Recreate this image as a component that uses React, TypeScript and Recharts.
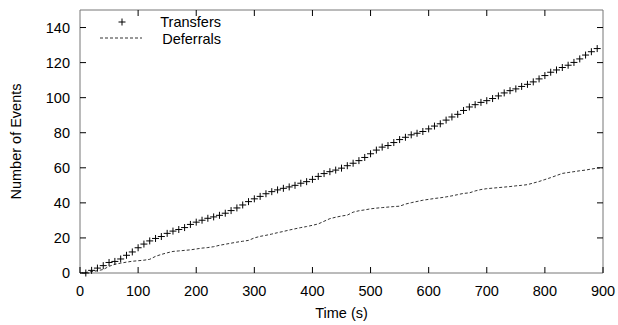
import React from 'react';
import {
  ComposedChart,
  Line,
  XAxis,
  YAxis,
  ReferenceArea,
} from 'recharts';

const times = [
  0, 10, 20, 30, 40, 50, 60, 70, 80, 90,
  100, 110, 120, 130, 140, 150, 160, 170, 180, 190,
  200, 210, 220, 230, 240, 250, 260, 270, 280, 290,
  300, 310, 320, 330, 340, 350, 360, 370, 380, 390,
  400, 410, 420, 430, 440, 450, 460, 470, 480, 490,
  500, 510, 520, 530, 540, 550, 560, 570, 580, 590,
  600, 610, 620, 630, 640, 650, 660, 670, 680, 690,
  700, 710, 720, 730, 740, 750, 760, 770, 780, 790,
  800, 810, 820, 830, 840, 850, 860, 870, 880, 890,
  900,
];

const transfers: (number | null)[] = [
  null,
  0, 1.5, 2.8, 4.2, 6, 6.6, 8, 10.1, 12, 14.4,
  16.5, 18.3, 19.7, 20.8, 22.6, 23.9, 24.8, 25.9, 27.7, 29,
  30.1, 31.2, 32, 32.9, 34.1, 35.6, 37.1, 38.8, 40.7, 42.3,
  43.7, 45.2, 46.4, 47.4, 48.3, 49.1, 50, 51.2, 52.1, 53.4,
  55.1, 56.7, 57.8, 58.7, 59.8, 61.2, 62.6, 64.1, 65.9, 68,
  70.1, 71.8, 72.7, 74.4, 76.1, 77.4, 78.8, 79.7, 80.7, 82.2,
  83.8, 85.1, 87.2, 89, 90.5, 92.7, 94.7, 96, 97.3, 98.3,
  99.5, 101, 102.7, 104, 105, 106.4, 107.6, 109, 110.7, 112.6,
  114.5, 115.8, 117.2, 118.5, 120.1, 122.1, 124.3, 126.2, 128,
  null,
];

const deferrals = [
  0, 0.3, 0.8, 1.3, 2, 3.8, 5, 5.6, 6.2, 6.7,
  7, 7.3, 7.8, 9.5, 10.6, 11.5, 12.3, 12.6, 12.9, 13.2,
  13.7, 14.2, 14.5, 15, 15.8, 16.4, 17, 17.6, 18.1, 18.6,
  20, 20.9, 21.5, 22.2, 23, 23.7, 24.5, 25.2, 25.9, 26.5,
  27.2, 28, 29.5, 31, 31.8, 32.5, 33, 34.7, 35.5, 36,
  36.6, 37, 37.3, 37.6, 37.9, 38.1, 39.3, 40.1, 40.8, 41.5,
  42, 42.5, 42.9, 43.4, 44, 44.7, 45.4, 45.7, 46.8, 47.6,
  48.1, 48.4, 48.7, 49, 49.3, 49.7, 50, 50.4, 51.3, 52.2,
  53.3, 54.4, 55.6, 56.8, 57.3, 57.8, 58.3, 58.7, 59.3, 59.8,
  60,
];

const xTicks = [0, 100, 200, 300, 400, 500, 600, 700, 800, 900];
const yTicks = [0, 20, 40, 60, 80, 100, 120, 140];

const data = times.map((t, i) => ({
  time: t,
  transfers: transfers[i],
  deferrals: deferrals[i],
}));

const FONT = '"Liberation Sans", Arial, Helvetica, sans-serif';
const PLOT_TOP = 10;
const PLOT_RIGHT = 603;

const Plus = (props: any) => {
  const { cx, cy } = props;
  if (cx == null || cy == null || isNaN(cy)) return null;
  return (
    <g>
      <line x1={cx - 3.5} x2={cx + 3.5} y1={cy} y2={cy} stroke="#000" strokeWidth={1} />
      <line x1={cx} x2={cx} y1={cy - 3.5} y2={cy + 3.5} stroke="#000" strokeWidth={1} />
    </g>
  );
};

const XTick = (props: any) => {
  const { x, y, payload } = props;
  const inner = payload.value !== 0 && payload.value !== 900;
  return (
    <g>
      <line x1={x} x2={x} y1={y} y2={y - 6} stroke="#000" />
      {inner && <line x1={x} x2={x} y1={PLOT_TOP} y2={PLOT_TOP + 6} stroke="#000" />}
      <text
        x={x}
        y={y + 18}
        textAnchor="middle"
        dominantBaseline="central"
        fontSize={14.5}
        fontFamily={FONT}
        fill="#000"
      >
        {payload.value}
      </text>
    </g>
  );
};

const YTick = (props: any) => {
  const { x, y, payload } = props;
  const inner = payload.value !== 0;
  return (
    <g>
      <line x1={x} x2={x + 6} y1={y} y2={y} stroke="#000" />
      {inner && <line x1={PLOT_RIGHT} x2={PLOT_RIGHT - 6} y1={y} y2={y} stroke="#000" />}
      <text
        x={x - 10}
        y={y}
        textAnchor="end"
        dominantBaseline="central"
        fontSize={14.5}
        fontFamily={FONT}
        fill="#000"
      >
        {payload.value}
      </text>
    </g>
  );
};

const YLabel = (props: any) => {
  const vb = props.viewBox || {};
  const cx = 16;
  const cy = (vb.y ?? 10) + (vb.height ?? 263) / 2;
  return (
    <text
      x={cx}
      y={cy}
      transform={`rotate(-90, ${cx}, ${cy})`}
      textAnchor="middle"
      dominantBaseline="central"
      fontSize={14.5}
      fontFamily={FONT}
      fill="#000"
    >
      Number of Events
    </text>
  );
};

// gnuplot-style key in the top-left corner of the plot
const KeyBox = () => (
  <svg
    width={150}
    height={36}
    style={{ position: 'absolute', left: 90, top: 12, display: 'block' }}
  >
    <line x1={28.5} x2={35.5} y1={10} y2={10} stroke="#000" />
    <line x1={32} x2={32} y1={6.5} y2={13.5} stroke="#000" />
    <text x={131} y={10} textAnchor="end" dominantBaseline="central" fontSize={14.5} fontFamily={FONT} fill="#000">
      Transfers
    </text>
    <line x1={10} x2={52} y1={26} y2={26} stroke="#333" strokeDasharray="3 2" />
    <text x={131} y={27} textAnchor="end" dominantBaseline="central" fontSize={14.5} fontFamily={FONT} fill="#000">
      Deferrals
    </text>
  </svg>
);

export default function App() {
  return (
    <div style={{ position: 'absolute', left: 0, top: 0, width: 618, height: 325, background: '#fff' }}>
      <ComposedChart
        width={618}
        height={325}
        data={data}
        margin={{ top: 10, right: 15, bottom: 0, left: 0 }}
      >
        <XAxis
          dataKey="time"
          type="number"
          domain={[0, 900]}
          ticks={xTicks}
          axisLine={false}
          tickLine={false}
          tickSize={0}
          tickMargin={0}
          height={52}
          tick={<XTick />}
          label={{
            value: 'Time (s)',
            position: 'insideBottom',
            offset: 7,
            fontSize: 14.5,
            fontFamily: FONT,
            fill: '#000',
          }}
        />
        <YAxis
          type="number"
          domain={[0, 150]}
          ticks={yTicks}
          axisLine={false}
          tickLine={false}
          tickSize={0}
          tickMargin={0}
          width={80}
          tick={<YTick />}
          label={<YLabel />}
        />
        <ReferenceArea x1={0} x2={900} y1={0} y2={150} fill="none" stroke="#777" strokeWidth={1} ifOverflow="visible" />
        <Line
          dataKey="deferrals"
          stroke="#333"
          strokeWidth={1}
          strokeDasharray="3 2"
          dot={false}
          activeDot={false}
          type="linear"
          isAnimationActive={false}
        />
        <Line
          dataKey="transfers"
          stroke="none"
          dot={<Plus />}
          activeDot={false}
          connectNulls={false}
          type="linear"
          isAnimationActive={false}
        />
      </ComposedChart>
      <KeyBox />
    </div>
  );
}
